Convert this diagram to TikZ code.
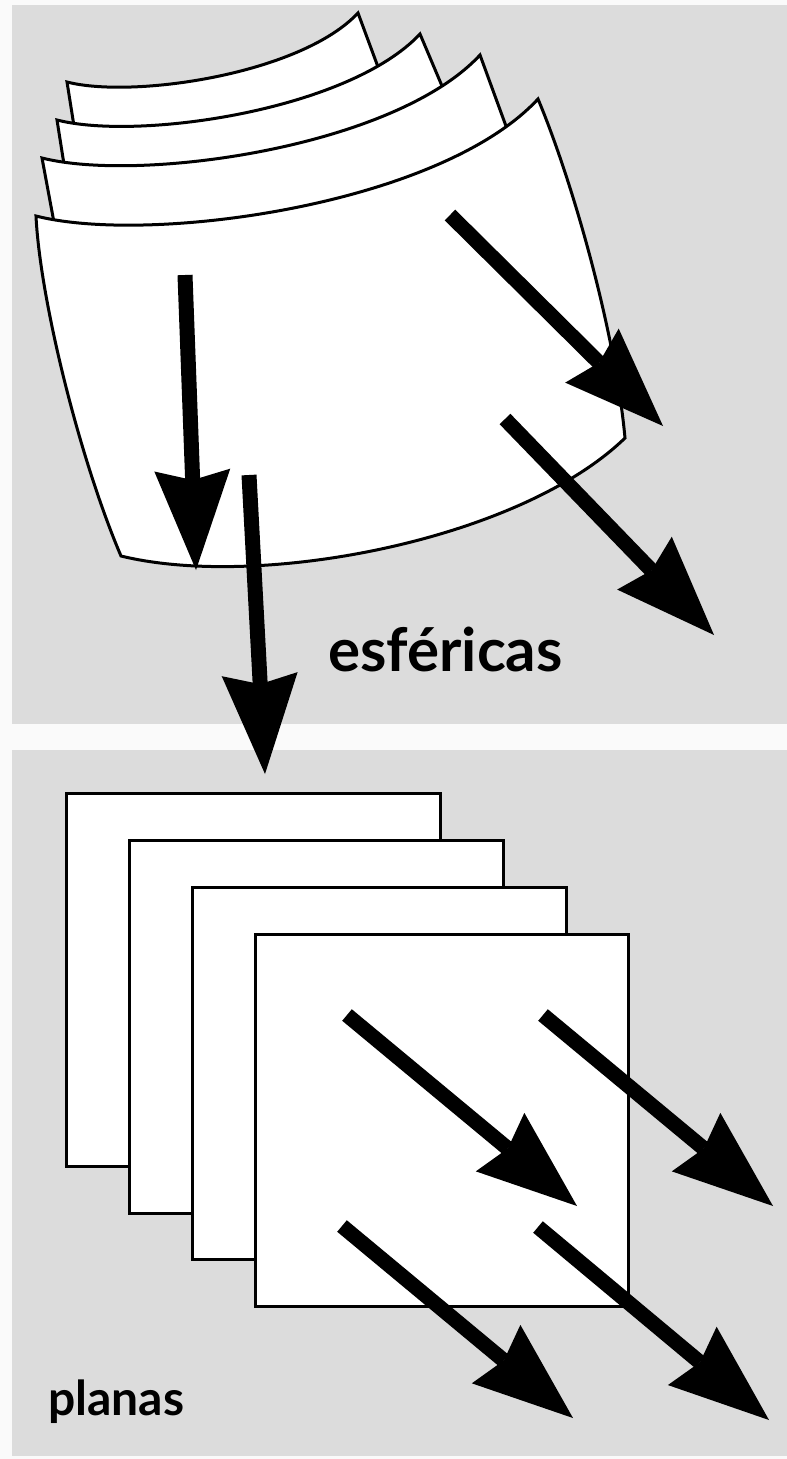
\documentclass[tikz,border=0pt]{standalone}
\usepackage{fontspec}
\setmainfont{Lato}
\usetikzlibrary{arrows.meta}
\definecolor{panelgray}{RGB}{220,220,220}
\definecolor{pagewhite}{RGB}{250,250,250}
\begin{document}
\begin{tikzpicture}[x=1pt,y=-1pt,
  sheet/.style={draw=black, fill=white, line width=3pt, line join=miter},
  ray/.style={line width=15pt, -{Stealth[length=100pt,width=76pt,inset=10pt,line width=0pt]}},
  caption/.style={anchor=base west, inner sep=0pt, font=\bfseries}]
\useasboundingbox (0,0) rectangle (787,1459);
\fill[pagewhite] (0,0) rectangle (787,1459);
\fill[panelgray] (12,5) rectangle (787,724);
\fill[panelgray] (12,750) rectangle (787,1456);

% curved wavefronts, back to front
\draw[sheet] (67,82) .. controls (133,99) and (301,74) .. (358,13) -- (464,299) -- (102,302) -- cycle;
\draw[sheet] (57,120) .. controls (139,141) and (349,110) .. (420,34) -- (530,294) -- (87,310) -- cycle;
\draw[sheet] (42,158) .. controls (141,183) and (395,147) .. (480,55) -- (567,293) -- (69.5,305.5) -- cycle;
\draw[sheet] (36,216) .. controls (150,245) and (440,205) .. (538,99)
  .. controls (572,180) and (615,330) .. (625,438)
  .. controls (520,540) and (260,590) .. (121,556)
  .. controls (80,460) and (40,300) .. cycle;

% plane wavefronts, back to front
\draw[sheet] (66,793) rectangle (440,1166);
\draw[sheet] (129,840) rectangle (503,1213);
\draw[sheet] (192,887) rectangle (566,1259);
\draw[sheet] (255,934) rectangle (628,1306);

% ray end points
\coordinate (a1s) at (185,275); \coordinate (a1e) at (196,570);
\coordinate (a2s) at (249,475); \coordinate (a2e) at (265,774);
\coordinate (a3s) at (450,215); \coordinate (a3e) at (663,426);
\coordinate (a4s) at (505,419); \coordinate (a4e) at (714,635);
\coordinate (b1s) at (347,1015); \coordinate (b1e) at (577,1206);
\coordinate (b2s) at (543,1015); \coordinate (b2e) at (773,1206);
\coordinate (b3s) at (342,1226); \coordinate (b3e) at (573,1418);
\coordinate (b4s) at (538,1227); \coordinate (b4e) at (769,1420);

\draw[ray] (a1s) -- (a1e);
\draw[ray] (a2s) -- (a2e);
\draw[ray] (a3s) -- (a3e);
\draw[ray] (a4s) -- (a4e);
\draw[ray] (b1s) -- (b1e);
\draw[ray] (b2s) -- (b2e);
\draw[ray] (b3s) -- (b3e);
\draw[ray] (b4s) -- (b4e);

\node[caption, font=\fontsize{60}{60}\selectfont\bfseries] (esf) at (328,671) {esféricas};
\node[caption, font=\fontsize{48}{48}\selectfont\bfseries] (pla) at (48,1415) {planas};
\end{tikzpicture}
\end{document}
